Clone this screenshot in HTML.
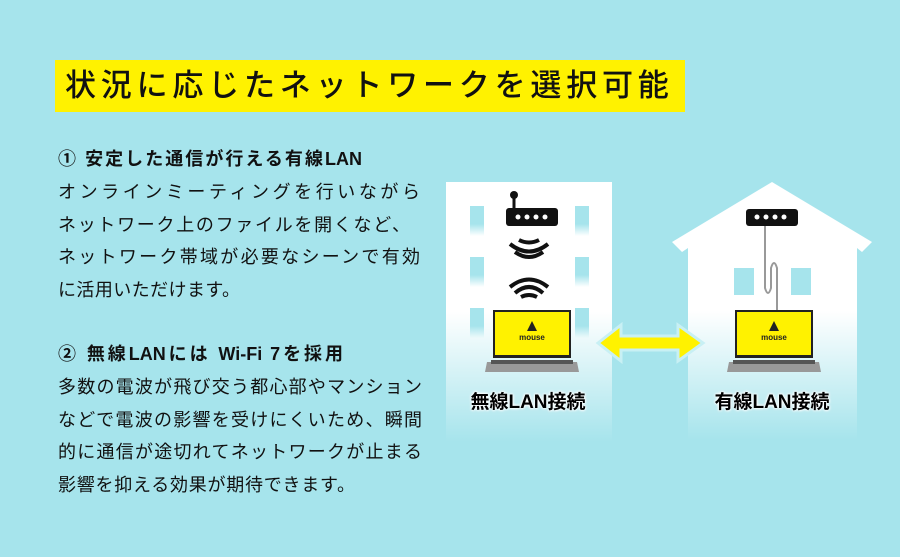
<!DOCTYPE html>
<html><head><meta charset="utf-8"><style>
body{margin:0;width:900px;height:557px;background:#a6e4ec;position:relative;overflow:hidden;font-family:"Liberation Sans","Noto Sans CJK JP",sans-serif;color:#111}
.t{position:absolute}
.title{left:55px;top:60px;width:630px;height:52px;background:#fff200;font-size:31px;line-height:52px;padding-left:10px;box-sizing:border-box;letter-spacing:4.8px;font-weight:500}
.body{left:58px;font-size:18px;line-height:32.8px;white-space:nowrap}
.body div{height:32.8px;text-align:justify;text-align-last:justify;text-justify:inter-character;overflow:visible}
.lbl{font-size:19px;font-weight:bold;text-shadow:0 0 2px #fff,0 0 3px #fff,0 0 3px #fff}
</style></head><body>
<div class="t title">状況に応じたネットワークを選択可能</div>
<div class="t body" style="top:143px">
<div style="width:304px;font-weight:bold">① 安定した通信が行える有線LAN</div>
<div style="width:362px">オンラインミーティングを行いながら</div>
<div style="width:352px">ネットワーク上のファイルを開くなど、</div>
<div style="width:362px">ネットワーク帯域が必要なシーンで有効</div>
<div style="width:182px">に活用いただけます。</div>
</div>
<div class="t body" style="top:338px">
<div style="width:285px;font-weight:bold">② 無線LANには Wi-Fi 7を採用</div>
<div style="width:364px">多数の電波が飛び交う都心部やマンション</div>
<div style="width:364px">などで電波の影響を受けにくいため、瞬間</div>
<div style="width:364px">的に通信が途切れてネットワークが止まる</div>
<div style="width:297px">影響を抑える効果が期待できます。</div>
</div>
<svg class="t" style="left:0;top:0" width="900" height="557">
<defs>
<linearGradient id="g" x1="0" y1="0" x2="0" y2="1">
<stop offset="0" stop-color="#fff"/><stop offset="0.5" stop-color="#fff"/><stop offset="1" stop-color="#fff" stop-opacity="0"/></linearGradient>
<linearGradient id="w" x1="0" y1="0" x2="0" y2="1">
<stop offset="0" stop-color="#a6e4ec"/><stop offset="0.6" stop-color="#a6e4ec"/><stop offset="1" stop-color="#a6e4ec" stop-opacity="0"/></linearGradient>
<g id="lap">
<rect x="0" y="0" width="78" height="48" fill="#222"/>
<rect x="2" y="2" width="74" height="43" fill="#fff200"/>
<path d="M39 11 L34 21 L44 21 Z" fill="#222"/>
<text x="39" y="30" font-size="8" font-weight="bold" text-anchor="middle" fill="#222" font-family="Liberation Sans">mouse</text>
<path d="M-6 52 L84 52 L86 62 L-8 62 Z" fill="#999"/>
<rect x="-2" y="50" width="82" height="4" fill="#555"/>
</g>
</defs>
<rect x="446" y="182" width="166" height="260" fill="url(#g)"/>
<g fill="url(#w)">
<rect x="470" y="206" width="14" height="30"/><rect x="575" y="206" width="14" height="30"/>
<rect x="470" y="257" width="14" height="30"/><rect x="575" y="257" width="14" height="30"/>
<rect x="470" y="308" width="14" height="30"/><rect x="575" y="308" width="14" height="30"/>
</g>
<path d="M672 242 L772 182 L872 242 L862 252 L857 248 L857 440 L688 440 L688 248 L682 252 Z" fill="url(#g)"/>
<rect x="734" y="268" width="20" height="27" fill="#a6e4ec"/><rect x="791" y="268" width="20" height="27" fill="#a6e4ec"/>
<rect x="506" y="208" width="52" height="18" rx="3" fill="#111"/>
<line x1="514" y1="208" x2="514" y2="196" stroke="#111" stroke-width="3"/><circle cx="514" cy="195" r="4" fill="#111"/>
<g fill="#fff"><circle cx="518" cy="217" r="2.5"/><circle cx="527" cy="217" r="2.5"/><circle cx="536" cy="217" r="2.5"/><circle cx="545" cy="217" r="2.5"/></g>
<g fill="none" stroke="#111" stroke-width="4">
<path d="M515 252 Q529 262 543 252"/><path d="M510 244 Q529 259 548 244"/><path d="M519 240 Q529 245 539 240"/>
<path d="M510 287 Q529 272 548 287"/><path d="M515 293 Q529 281 543 293"/><path d="M521 297 Q529 293 537 297"/>
</g>
<rect x="746" y="209" width="52" height="17" rx="3" fill="#111"/>
<g fill="#fff"><circle cx="757" cy="217" r="2.5"/><circle cx="766" cy="217" r="2.5"/><circle cx="775" cy="217" r="2.5"/><circle cx="784" cy="217" r="2.5"/></g>
<path d="M765 226 L765 288 Q768 298 771 288 L771 268 Q774 258 777 268 L777 310" fill="none" stroke="#999" stroke-width="2"/>
<use href="#lap" x="493" y="310"/>
<use href="#lap" x="735" y="310"/>
<path d="M598 343 L621 325 L621 336 L678 336 L678 325 L703 343 L678 361 L678 350 L621 350 L621 361 Z" fill="#fff200" stroke="#c8f0f4" stroke-width="3"/>
<text x="528" y="408" class="lbl" text-anchor="middle" font-family="Liberation Sans,Noto Sans CJK JP,sans-serif">無線LAN接続</text>
<text x="772" y="408" class="lbl" text-anchor="middle" font-family="Liberation Sans,Noto Sans CJK JP,sans-serif">有線LAN接続</text>
</svg>
</body></html>
